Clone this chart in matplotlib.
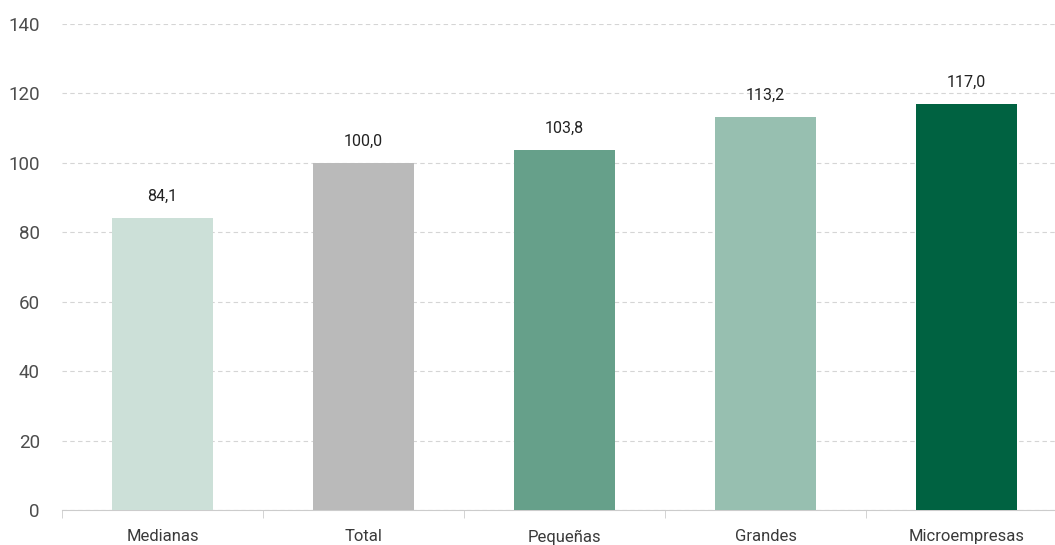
import matplotlib.pyplot as plt
import numpy as np

categorias = ["Medianas", "Total", "Pequeñas", "Grandes", "Microempresas"]
valores = [84.1, 100.0, 103.8, 113.2, 117.0]
colores = ["#cce0d8", "#bababa", "#66a08a", "#97bfb0", "#006241"]
yticks = [0, 20, 40, 60, 80, 100, 120, 140]

plt.rcParams['font.family'] = ['Roboto', 'DejaVu Sans']

fig = plt.figure(figsize=(10.55, 5.45), dpi=100)
ax = fig.add_axes([0.0588, 0.0642, 0.9526, 0.8917])

x = np.arange(len(categorias))
bars = ax.bar(x, valores, width=0.5, color=colores, zorder=3)

for b, v in zip(bars, valores):
    ax.text(b.get_x() + b.get_width() / 2, v + 4, f"{v:.1f}".replace(".", ","),
            ha="center", va="bottom", fontsize=11.5, color="#222222")

ax.set_xlim(-0.5, len(categorias) - 0.5)
ax.set_ylim(0, 140)
ax.set_yticks(yticks)
ax.set_yticklabels([str(t) for t in yticks], fontsize=13.5, color="#4d4d4d")
ax.set_xticks(x)
ax.set_xticklabels(categorias, fontsize=12, color="#3a3a3a")
ax.set_xticks(np.arange(-0.5, len(categorias), 1), minor=True)
ax.tick_params(axis="x", which="major", length=0, pad=14)
ax.tick_params(axis="x", which="minor", length=6, color="#cccccc")
ax.tick_params(axis="y", length=0, pad=16)

for s in ["top", "right", "left"]:
    ax.spines[s].set_visible(False)
ax.spines["bottom"].set_color("#cccccc")

ax.yaxis.grid(True, linestyle=(0, (4, 3)), color="#d5d5d5", linewidth=0.8, zorder=0)
ax.set_axisbelow(True)

fig.savefig("out.png", dpi=100)
